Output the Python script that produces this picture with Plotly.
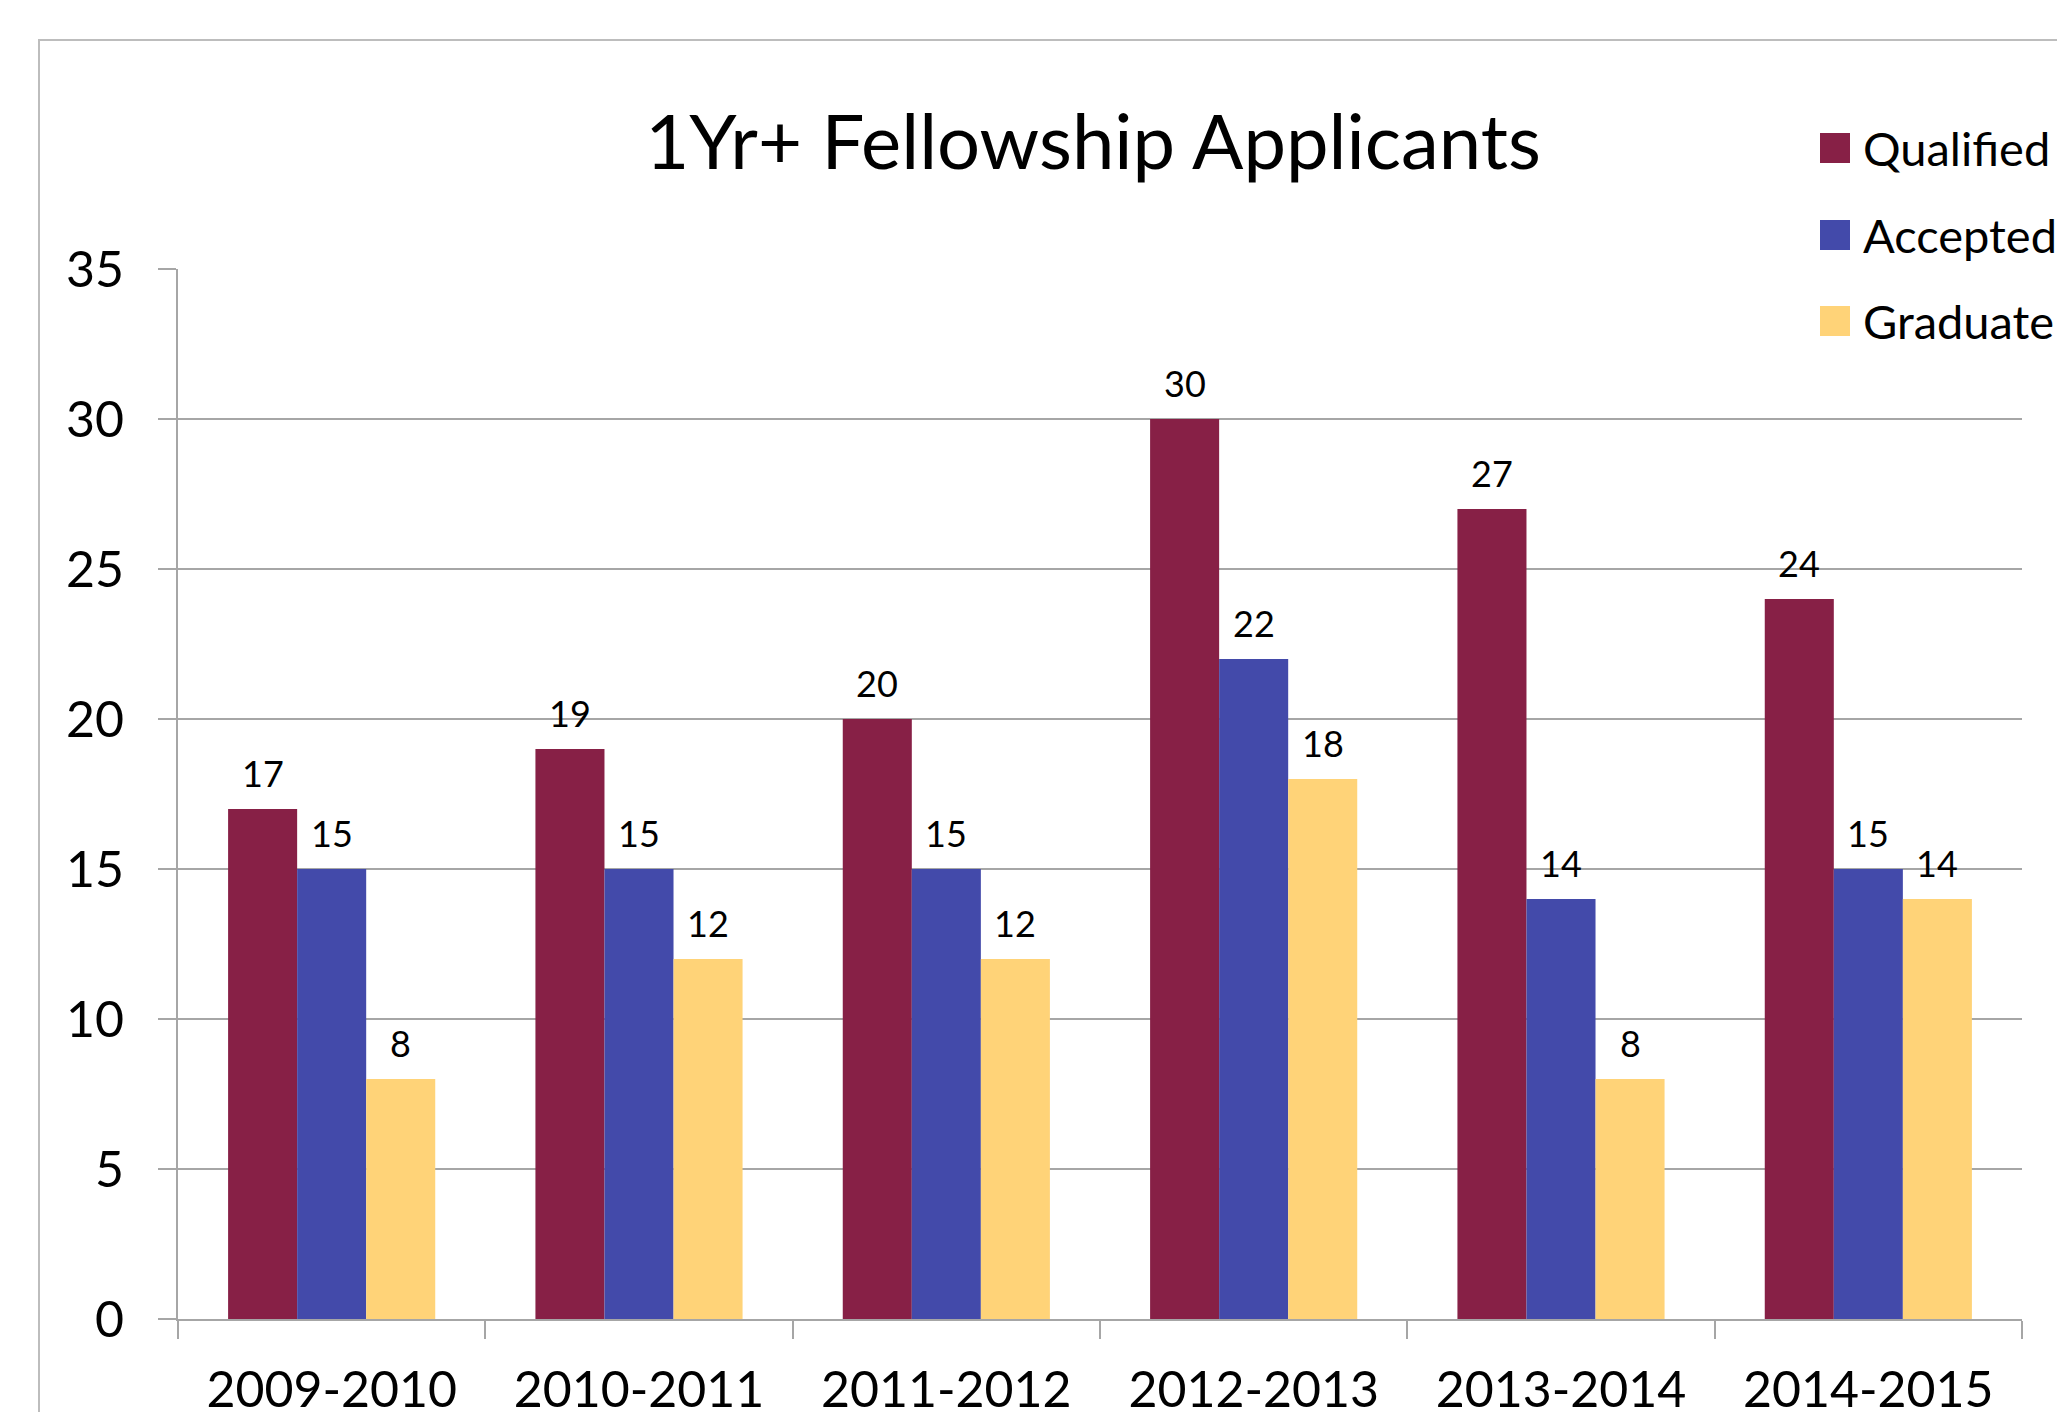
import plotly.graph_objects as go

categories = ["2009-2010", "2010-2011", "2011-2012", "2012-2013", "2013-2014", "2014-2015"]
series_names = ["Qualified", "Accepted", "Graduate"]
qualified = [17, 19, 20, 30, 27, 24]
accepted = [15, 15, 15, 22, 14, 15]
graduate = [8, 12, 12, 18, 8, 14]
colors = ["#872046", "#434AAA", "#FFD378"]
y_ticks = [0, 5, 10, 15, 20, 25, 30, 35]

OFF = 8  # default page body margin
W, H = 2065 - OFF, 1412 - OFF
L, T = 178 - OFF, 269 - OFF
R = W - (2022 - OFF)
B = H - (1319 - OFF)
pw, ph = W - L - R, H - T - B
BARGAP = 0.326

FONT = "Lato"
fig = go.Figure()
all_series = [qualified, accepted, graduate]
for name, vals, col in zip(series_names, all_series, colors):
    fig.add_trace(go.Bar(
        x=categories, y=vals, name=name,
        marker=dict(color=col, line=dict(width=0)),
    ))

def px_x(p):  # page pixel -> paper coord
    return (p - OFF - L) / pw

def px_y(p):
    return 1 - (p - OFF - T) / ph

annotations = []
# data labels, centred over each bar of the group
bar_px = pw / len(categories) * (1 - BARGAP) / len(series_names)
for i, vals in enumerate(all_series):
    shift = (i - (len(series_names) - 1) / 2) * bar_px
    for c, v in zip(categories, vals):
        annotations.append(dict(text=str(v), x=c, y=v, xref="x", yref="y",
                                xshift=shift, yshift=12, xanchor="center", yanchor="bottom",
                                showarrow=False, font=dict(family=FONT, size=36, color="black")))

shapes = []
# outer chart border (extends beyond page)
shapes.append(dict(type="rect", xref="paper", yref="paper",
                   x0=px_x(39), x1=px_x(2200), y0=px_y(1600), y1=px_y(40),
                   line=dict(color="#BDBDBD", width=2), fillcolor="rgba(0,0,0,0)", layer="below"))
# legend background
shapes.append(dict(type="rect", xref="paper", yref="paper",
                   x0=px_x(1798), x1=px_x(2100), y0=px_y(370), y1=px_y(95),
                   line=dict(width=0), fillcolor="white", layer="above"))
legend_rows = [148, 235, 321]
for name, col, yc in zip(series_names, colors, legend_rows):
    shapes.append(dict(type="rect", xref="paper", yref="paper",
                       x0=px_x(1820), x1=px_x(1850), y0=px_y(yc + 15), y1=px_y(yc - 15),
                       line=dict(width=0), fillcolor=col, layer="above"))
    annotations.append(dict(text=name, xref="paper", yref="paper", x=px_x(1861), y=px_y(yc),
                            xanchor="left", yanchor="middle", showarrow=False,
                            font=dict(family=FONT, size=47, color="black")))

fig.update_layout(
    width=W, height=H,
    margin=dict(l=L, r=R, t=T, b=B, autoexpand=False),
    paper_bgcolor="white", plot_bgcolor="white",
    barmode="group", bargap=BARGAP, bargroupgap=0,
    showlegend=False,
    title=dict(text="1Yr+ Fellowship Applicants", xref="container", yref="container",
               x=(1093 - OFF) / W, y=1 - (142 - OFF) / H, xanchor="center", yanchor="middle",
               font=dict(family=FONT, size=76, color="black"), automargin=False),
    font=dict(family=FONT, color="black"),
    shapes=shapes, annotations=annotations,
    xaxis=dict(showline=True, linecolor="#A6A6A6", linewidth=2, automargin=False,
               ticks="outside", tickson="boundaries", ticklen=18, tickwidth=2, tickcolor="#A6A6A6",
               tickfont=dict(family=FONT, size=50, color="black"), ticklabelstandoff=26,
               showgrid=False),
    yaxis=dict(range=[0, 35], tickvals=y_ticks, showline=True, linecolor="#A6A6A6", linewidth=2,
               automargin=False,
               ticks="outside", ticklen=18, tickwidth=2, tickcolor="#A6A6A6",
               showgrid=True, gridcolor="#A6A6A6", gridwidth=2, zeroline=False,
               tickfont=dict(family=FONT, size=50, color="black"), ticklabelstandoff=24),
)

fig.write_html("out.html")
